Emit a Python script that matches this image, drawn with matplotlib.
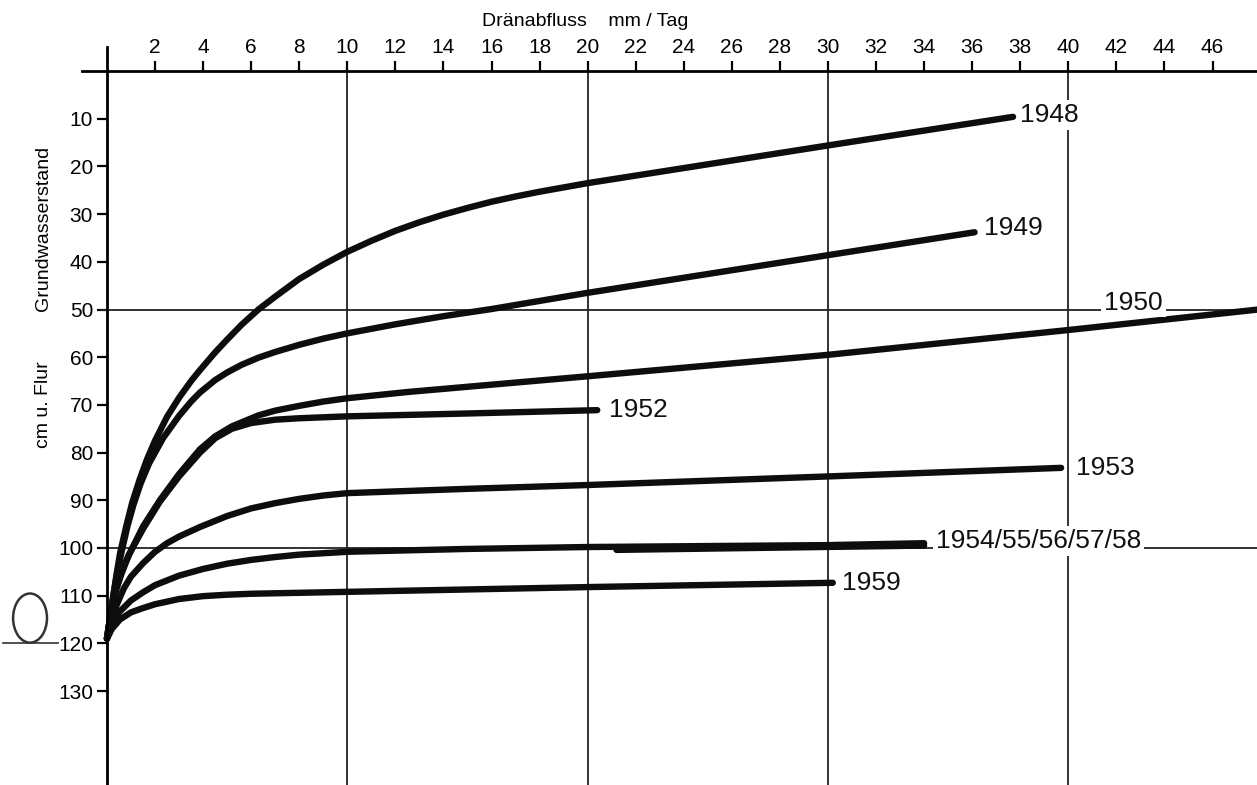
import matplotlib.pyplot as plt
from matplotlib.patches import Ellipse

plt.rcParams['font.family'] = ['Liberation Sans Narrow', 'Liberation Sans', 'DejaVu Sans']

# Daten: Dränabfluss mm/Tag -> Grundwasserstand cm u. Flur
x1948 = [0, 0.12, 0.25, 0.4, 0.55, 0.8, 1.05, 1.35, 1.66, 2, 2.5, 3, 3.5, 3.87, 4.5, 5, 5.6, 6.3, 7, 8, 9,
         10, 11, 12, 13, 14, 15, 16, 17, 18, 19, 20, 30, 37.7]
y1948 = [119, 115, 110.5, 105.5, 101, 95.5, 90.5, 85.8, 81.5, 77.5, 72.5, 68.5, 65, 62.7, 59, 56.3, 53.2, 50, 47.3, 43.6, 40.6,
         37.9, 35.6, 33.5, 31.7, 30.1, 28.7, 27.4, 26.3, 25.3, 24.4, 23.5, 15.6, 9.6]

x1949 = [0, 0.12, 0.25, 0.4, 0.6, 0.85, 1.1, 1.4, 1.75, 2.33, 3, 3.5, 3.87, 4.5, 5, 5.6, 6.3, 7, 8, 9,
         10, 12, 14, 16, 18, 20, 30, 36.1]
y1949 = [119, 115, 110.5, 106, 101, 95.5, 91, 86.5, 82.3, 77, 72.3, 69.3, 67.4, 64.8, 63.2, 61.6, 60.1, 58.9, 57.4, 56.1,
         55, 53.1, 51.4, 49.9, 48.2, 46.5, 38.6, 33.8]

x1950 = [0, 0.15, 0.3, 0.6, 0.96, 1.5, 2.2, 3, 3.87, 4.5, 5.2, 6.3, 7, 8, 9, 10, 12.5, 15, 20, 30, 40, 47.9]
y1950 = [119, 114, 110, 105, 101, 95.5, 90, 84.5, 79.3, 76.6, 74.5, 72.2, 71.2, 70.2, 69.3, 68.6, 67.3, 66.2, 64, 59.5, 54.3, 50]

x1952 = [0, 0.15, 0.3, 0.6, 0.9, 1.5, 2.2, 3, 3.87, 4.5, 5.2, 6, 7, 8, 10, 15, 20.4]
y1952 = [119, 114, 110, 105.5, 101.5, 96, 90.3, 85, 80, 77, 75, 73.8, 73.1, 72.8, 72.4, 71.8, 71.1]

x1953 = [0, 0.2, 0.4, 0.7, 1, 1.5, 2, 2.5, 3, 3.87, 5, 6, 7, 8, 9, 10, 15, 20, 30, 39.7]
y1953 = [119, 115, 112, 108.5, 106, 103.2, 100.8, 99, 97.6, 95.6, 93.3, 91.7, 90.6, 89.7, 89, 88.5, 87.6, 86.8, 85, 83.2]

x1954 = [0, 0.25, 0.5, 1, 1.5, 2, 3, 4, 5, 6, 7, 8, 10, 15, 20, 30, 34]
y1954 = [119, 116, 113.5, 111, 109.3, 107.8, 105.8, 104.4, 103.3, 102.5, 101.9, 101.4, 100.8, 100.2, 99.8, 99.4, 99]
x1954b = [21.2, 34]
y1954b = [100.4, 99.5]

x1959 = [0, 0.2, 0.54, 1, 1.5, 2, 3, 4, 5, 6, 8, 10, 20, 30.2]
y1959 = [119, 117, 115, 113.5, 112.6, 111.8, 110.7, 110.1, 109.8, 109.6, 109.4, 109.2, 108.2, 107.3]

x_ticks = list(range(2, 47, 2))
y_ticks = list(range(10, 131, 10))
x_grid = [10, 20, 30, 40]
y_grid = [50, 100]

fig = plt.figure(figsize=(12.57, 7.85), dpi=100)
ax = fig.add_axes([0, 0, 1, 1])
ax.set_xlim(-4.45, 47.85)
ax.set_ylim(149.7, -14.9)

# Achsen
for s in ['right', 'bottom']:
    ax.spines[s].set_visible(False)
ax.spines['top'].set_position(('data', 0))
ax.spines['left'].set_position(('data', 0))
ax.spines['top'].set_bounds(-1.05, 47.85)
ax.spines['left'].set_bounds(-5, 149.7)
ax.spines['top'].set_linewidth(2)
ax.spines['left'].set_linewidth(2)
ax.xaxis.set_ticks_position('top')
ax.yaxis.set_ticks_position('left')
ax.set_xticks(x_ticks)
ax.set_xticklabels([str(v) for v in x_ticks])
ax.set_yticks(y_ticks)
ax.set_yticklabels([str(v) for v in y_ticks])
ax.tick_params(axis='x', direction='out', length=7, width=1.6, labelsize=15, pad=3)
ax.tick_params(axis='y', direction='out', length=7, width=1.6, labelsize=15, pad=3)

# Gitterlinien
ax.vlines(x_grid, 0, 149.7, color='#222', lw=1.3)
ax.hlines(y_grid, -0.3, 47.85, color='#222', lw=1.3)

kw = dict(color='#0d0d0d', lw=4.6, solid_capstyle='round', solid_joinstyle='round')
ax.plot(x1948, y1948, **kw)
ax.plot(x1949, y1949, **kw)
ax.plot(x1950, y1950, **kw)
ax.plot(x1952, y1952, **kw)
ax.plot(x1953, y1953, **kw)
ax.plot(x1954, y1954, **kw)
ax.plot(x1954b, y1954b, **kw)
ax.plot(x1959, y1959, **kw)

lab = dict(fontsize=19, color='#111')
wbox = dict(facecolor='white', edgecolor='none', pad=2)
ax.text(38.0, 9.2, '1948', va='center', ha='left', bbox=wbox, **lab)
ax.text(36.5, 32.9, '1949', va='center', ha='left', **lab)
ax.text(41.5, 50, '1950', va='baseline', ha='left', bbox=wbox, **lab)
ax.text(20.9, 71.1, '1952', va='center', ha='left', **lab)
ax.text(40.3, 83.2, '1953', va='center', ha='left', **lab)
ax.text(34.5, 100, '1954/55/56/57/58', va='baseline', ha='left', bbox=wbox, **lab)
ax.text(30.6, 107.3, '1959', va='center', ha='left', **lab)

ax.text(19.9, -10.4, 'Dränabfluss    mm / Tag', ha='center', va='center', fontsize=14)
ax.text(-2.66, 32.9, 'Grundwasserstand', rotation=90, ha='center', va='center', fontsize=14)
ax.text(-2.66, 70, 'cm u. Flur', rotation=90, ha='center', va='center', fontsize=14)

# Randmarkierung
ax.add_patch(Ellipse((-3.2, 114.7), 1.41, 10.3, fill=False, lw=1.8, ec='#333', clip_on=False))
ax.plot([-4.33, -2.04], [120, 120], color='#333', lw=1.2)

fig.savefig('out.png', dpi=100, facecolor='white')
